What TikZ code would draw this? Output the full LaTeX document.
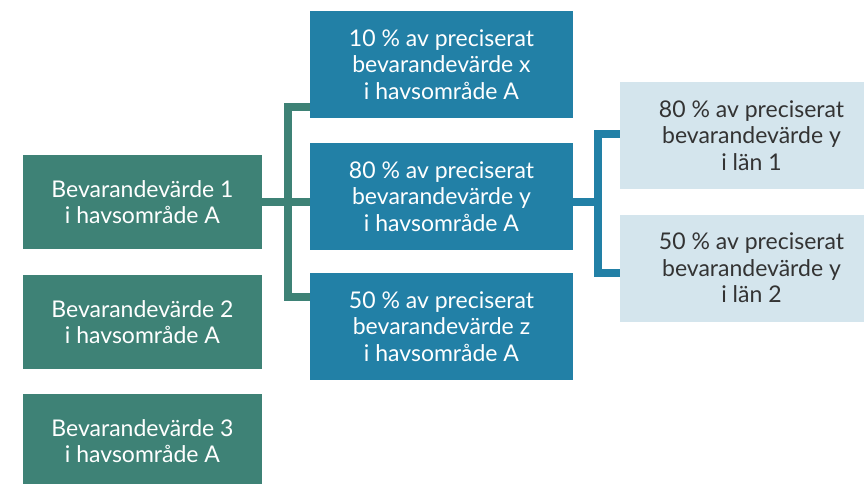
\documentclass[tikz,border=0pt]{standalone}
\usepackage{fontspec}
\setmainfont{Lato}
\definecolor{seagreen}{HTML}{3E8276}
\definecolor{oceanblue}{HTML}{2280A6}
\definecolor{paleblue}{HTML}{D4E5ED}
\definecolor{inkgray}{HTML}{333333}
\tikzset{
  box/.style={rectangle, inner sep=0pt, align=center,
    font=\fontsize{23}{26.5}\selectfont},
  greenbox/.style={box, fill=seagreen, text=white, minimum width=239pt, minimum height=94pt},
  bluebox/.style={box, fill=oceanblue, text=white, minimum width=263pt, minimum height=107pt},
  palebox/.style={box, fill=paleblue, text=inkgray, minimum width=263pt, minimum height=107pt},
  gline/.style={draw=seagreen, line width=8pt},
  bline/.style={draw=oceanblue, line width=8pt},
}
\begin{document}
\begin{tikzpicture}[x=1pt,y=1pt]
\useasboundingbox (0,0) rectangle (864,483);
% left column
\node[greenbox] (g1) at (142.5,281) {Bevarandevärde 1\\i havsområde A};
\node[greenbox] (g2) at (142.5,161) {Bevarandevärde 2\\i havsområde A};
\node[greenbox] (g3) at (142.5,42) {Bevarandevärde 3\\i havsområde A};
% middle column
\node[bluebox] (b1) at (441.5,418.5) {10 \% av preciserat\\bevarandevärde x\\i havsområde A};
\node[bluebox] (b2) at (441.5,286.5) {80 \% av preciserat\\bevarandevärde y\\i havsområde A};
\node[bluebox] (b3) at (441.5,156.5) {50 \% av preciserat\\bevarandevärde z\\i havsområde A};
% right column
\node[palebox] (p1) at (751.5,347.5) {80 \% av preciserat\\bevarandevärde y\\i län 1};
\node[palebox] (p2) at (751.5,215) {50 \% av preciserat\\bevarandevärde y\\i län 2};
% bracket coordinates
\coordinate (gtop) at (288,376);
\coordinate (gbot) at (288,186);
\coordinate (btop) at (598,349);
\coordinate (bbot) at (598,210);
% green bracket
\draw[gline] (b1.west |- gtop) -- (gtop) -- (gbot) -- (b3.west |- gbot);
\draw[gline] (g1.east) -- (b2.west |- g1.east);
% blue bracket
\draw[bline] (p1.west |- btop) -- (btop) -- (bbot) -- (p2.west |- bbot);
\draw[bline] (b2.east |- g1.east) -- (btop |- g1.east);
\end{tikzpicture}
\end{document}
